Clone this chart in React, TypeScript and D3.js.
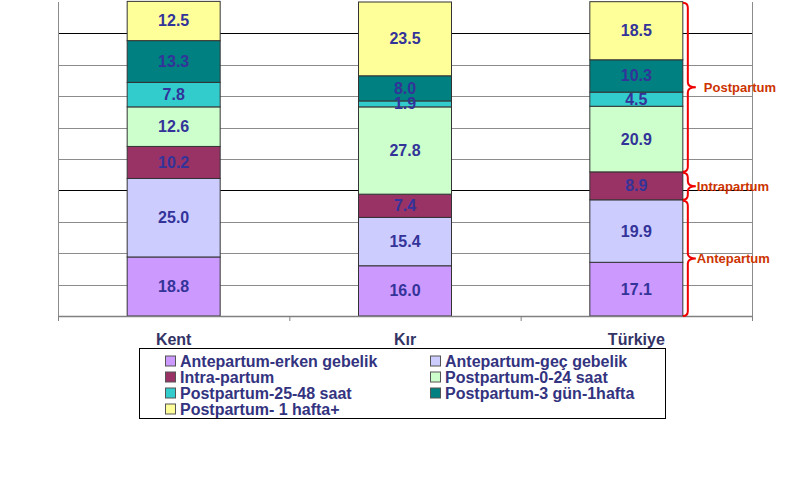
import React from "react";
import * as d3 from "d3";

const categories = ["Kent", "Kır", "Türkiye"];
const seriesNames = [
  "Antepartum-erken gebelik",
  "Antepartum-geç gebelik",
  "Intra-partum",
  "Postpartum-0-24 saat",
  "Postpartum-25-48 saat",
  "Postpartum-3 gün-1hafta",
  "Postpartum- 1 hafta+",
];
const anteErken = [18.8, 16.0, 17.1];
const anteGec = [25.0, 15.4, 19.9];
const intra = [10.2, 7.4, 8.9];
const post024 = [12.6, 27.8, 20.9];
const post2548 = [7.8, 1.9, 4.5];
const post3g = [13.3, 8.0, 10.3];
const post1h = [12.5, 23.5, 18.5];
const seriesValues = [anteErken, anteGec, intra, post024, post2548, post3g, post1h];
const colors = ["#cc99ff", "#ccccff", "#993366", "#ccffcc", "#33cccc", "#008080", "#ffff99"];
const yTicks = [0, 10, 20, 30, 40, 50, 60, 70, 80, 90, 100];
const groupNames = ["Antepartum", "Intrapartum", "Postpartum"];
const groupSeries = [[0, 1], [2], [3, 4, 5, 6]];

const FONT = "Arial, 'Liberation Sans', sans-serif";

export default function App() {
  const left = 58, right = 752, top = 2, bottom = 316;
  const x = d3.scaleBand<string>().domain(categories).range([left, right]).padding(0);
  const y = d3.scaleLinear().domain([0, 100]).range([bottom, top]);
  const barW = x.bandwidth() * 0.402;

  const stacks = categories.map((_, ci) => {
    let acc = 0;
    return seriesValues.map((vals) => {
      const y0 = acc;
      acc += vals[ci];
      return [y0, acc];
    });
  });

  const lastIdx = categories.length - 1;
  const lastCx = (x(categories[lastIdx]) as number) + x.bandwidth() / 2;
  const x0 = lastCx + barW / 2;
  const x1 = x0 + 5;
  const x2 = x0 + 13;

  const brace = (yTop: number, yBot: number) => {
    const r = 5;
    const ym = (yTop + yBot) / 2;
    const p = d3.path();
    p.moveTo(x0, yTop);
    p.quadraticCurveTo(x1, yTop, x1, yTop + r);
    p.lineTo(x1, ym - r);
    p.quadraticCurveTo(x1, ym, x2, ym);
    p.quadraticCurveTo(x1, ym, x1, ym + r);
    p.lineTo(x1, yBot - r);
    p.quadraticCurveTo(x1, yBot, x0, yBot);
    return p.toString();
  };

  const legendRows = [[0, 1], [2, 3], [4, 5], [6]];
  const legendColX = [165, 430];

  return (
    <svg width={804} height={490} style={{ position: "absolute", left: 0, top: 0, background: "#fff" }} fontFamily={FONT}>
      <rect x={0} y={0} width={804} height={490} fill="#fff" />
      {/* gridlines */}
      {yTicks.slice(1, -1).map((t) => (
        <line key={t} x1={left} x2={right} y1={Math.round(y(t)) + 0.5} y2={Math.round(y(t)) + 0.5}
          stroke={t === 90 || t === 40 ? "#000" : "#8c8c8c"} strokeWidth={1} />
      ))}
      {/* plot borders */}
      <line x1={left + 0.5} x2={left + 0.5} y1={top} y2={bottom} stroke="#8c8c8c" />
      <line x1={right + 0.5} x2={right + 0.5} y1={top} y2={bottom} stroke="#8c8c8c" />
      {/* bars */}
      {categories.map((c, ci) => {
        const cx = (x(c) as number) + x.bandwidth() / 2;
        return (
          <g key={c}>
            {seriesValues.map((vals, si) => {
              const [a, b] = stacks[ci][si];
              return (
                <rect key={si} x={cx - barW / 2} y={y(b)} width={barW} height={y(a) - y(b)}
                  fill={colors[si]} stroke="#333" strokeWidth={1} />
              );
            })}
            {seriesValues.map((vals, si) => {
              const [a, b] = stacks[ci][si];
              return (
                <text key={"t" + si} x={cx} y={(y(a) + y(b)) / 2} textAnchor="middle" dominantBaseline="central"
                  fontSize={16} fontWeight="bold" fill="#333399">
                  {vals[ci].toFixed(1)}
                </text>
              );
            })}
            <text x={cx} y={339} textAnchor="middle" dominantBaseline="central" fontSize={16}
              fontWeight="bold" fill="#333366">{c}</text>
          </g>
        );
      })}
      {/* x axis */}
      <line x1={left} x2={right + 1} y1={bottom + 0.5} y2={bottom + 0.5} stroke="#808080" strokeWidth={1.5} />
      {[...categories.map((c) => x(c) as number), right].map((tx, i) => (
        <line key={i} x1={tx + 0.5} x2={tx + 0.5} y1={bottom} y2={bottom + 5} stroke="#808080" />
      ))}
      {/* braces */}
      {groupSeries.map((gs, gi) => {
        const a = stacks[lastIdx][gs[0]][0];
        const b = stacks[lastIdx][gs[gs.length - 1]][1];
        const yT = y(b), yB = y(a);
        const ym = (yT + yB) / 2;
        return (
          <g key={gi}>
            <path d={brace(yT + 1, yB)} fill="none" stroke="#ee0000" strokeWidth={2} />
            <text x={gi === 2 ? x2 + 8 : x2 + 1} y={ym + 1} dominantBaseline="central" fontSize={13}
              fontWeight="bold" fill="#cc3300">{groupNames[gi]}</text>
          </g>
        );
      })}
      {/* legend */}
      <rect x={139.5} y={348.5} width={526} height={70} fill="#fff" stroke="#000" strokeWidth={1} />
      {legendRows.map((row, ri) =>
        row.map((si, ci) => {
          const ly = 361 + ri * 16;
          return (
            <g key={si}>
              <rect x={legendColX[ci] + 0.5} y={ly - 5} width={10} height={10} fill={colors[si]} stroke="#555" strokeWidth={1} />
              <text x={legendColX[ci] + 15} y={ly} dominantBaseline="central" fontSize={16} fontWeight="bold" fill="#333380">
                {seriesNames[si]}
              </text>
            </g>
          );
        })
      )}
    </svg>
  );
}
